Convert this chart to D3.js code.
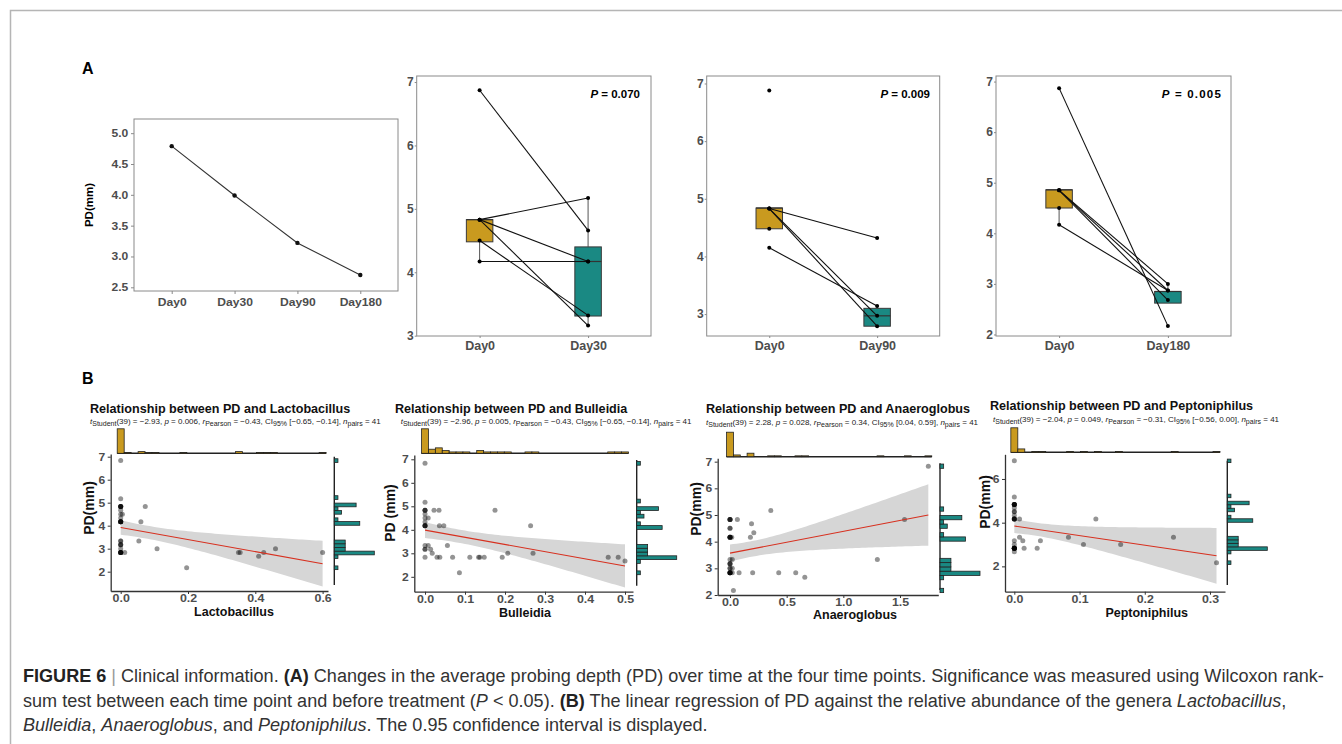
<!DOCTYPE html>
<html>
<head>
<meta charset="utf-8">
<script src="https://cdn.jsdelivr.net/npm/d3@7"></script>
<style>
  body { margin: 0; background: #fff; }
  svg { display: block; font-family: "Liberation Sans", Arial, sans-serif; }
</style>
</head>
<body>
<svg id="fig" width="1342" height="744"></svg>
<script>
// ---------- panel A data
const days = ['Day0', 'Day30', 'Day90', 'Day180'];
const meanPD = [4.79, 3.99, 3.22, 2.70];
const yTicksA = [2.5, 3.0, 3.5, 4.0, 4.5, 5.0];

const followUps = ['Day30', 'Day90', 'Day180'];
const pLabels = ['0.070', '0.009', '0.005'];
// [Day0, follow-up] per patient, null = missing
const pairsDay30 = [[6.87, 4.66], [4.83, 5.17], [4.83, 4.17], [4.83, 3.16], [4.5, 3.32], [4.17, 4.17]];
const pairsDay90 = [[6.88, null], [4.83, 4.32], [4.83, 2.97], [4.83, 2.79], [4.48, null], [4.15, 3.14]];
const pairsDay180 = [[6.87, 2.17], [4.85, 3.0], [4.85, 2.87], [4.85, 2.68], [4.5, null], [4.17, 2.87]];
// [lower whisker, q1, median, q3, upper whisker]
const boxDay0 = [[4.17, 4.48, 4.83, 4.83, 4.83], [4.48, 4.48, 4.84, 4.84, 4.84], [4.17, 4.50, 4.86, 4.86, 4.86]];
const boxFollow = [[3.16, 3.31, 4.17, 4.40, 5.17], [2.79, 2.79, 2.97, 3.10, 3.14], [2.62, 2.62, 2.85, 2.85, 3.0]];
const boxTicks = [[3, 4, 5, 6, 7], [3, 4, 5, 6, 7], [2, 3, 4, 5, 6, 7]];

// ---------- panel B data (41 patients)
const genera = ['Lactobacillus', 'Bulleidia', 'Anaeroglobus', 'Peptoniphilus'];
const yLabels = ['PD(mm)', 'PD (mm)', 'PD(mm)', 'PD(mm)'];
const pd = [6.83, 5.17,
  4.83, 4.83, 4.83, 4.83, 4.83, 4.83, 4.67, 4.5, 4.5, 4.33,
  4.17, 4.17, 4.17, 4.17, 4.17, 4.17, 4.17,
  3.33, 3.33, 3.33, 3.17, 3.17, 3.17, 3.0, 3.0, 3.0,
  2.83, 2.83, 2.83, 2.83, 2.83, 2.83, 2.83, 2.83, 2.83, 2.83, 2.83,
  2.67, 2.17];
const lactobacillus = [0, 0,
  0.073, 0, 0, 0, 0, 0, 0, 0.005, 0, 0,
  0.06, 0, 0, 0, 0, 0, 0,
  0.054, 0, 0, 0, 0, 0, 0.108, 0.46, 0,
  0.35, 0.355, 0.425, 0.6, 0.012, 0, 0, 0, 0, 0, 0,
  0.41, 0.196];
const bulleidia = [0, 0,
  0.0225, 0.035, 0.175, 0, 0, 0, 0, 0.008, 0, 0,
  0.036, 0.047, 0.264, 0, 0, 0, 0,
  0.008, 0.056, 0, 0.014, 0, 0, 0.018, 0.207, 0.27,
  0.03, 0.037, 0.069, 0.112, 0.134, 0.137, 0.148, 0.193, 0.458, 0.483, 0,
  0.5, 0.086];
const anaeroglobus = [1.75, 0.36,
  1.54, 0.065, 0, 0, 0, 0, 0.19, 0, 0, 0.21,
  0.18, 0.015, 0, 0, 0, 0, 0,
  1.3, 0.02, 0, 0, 0, 0, 0.02, 0, 0,
  0.02, 0.08, 0.2, 0.43, 0.58, 0, 0, 0, 0, 0, 0,
  0.66, 0.03];
const peptoniphilus = [0, 0,
  0, 0, 0, 0, 0, 0, 0, 0, 0, 0,
  0.008, 0.125, 0, 0, 0, 0, 0,
  0.008, 0.083, 0.244, 0.013, 0.04, 0, 0.106, 0.163, 0,
  0.015, 0.035, 0, 0, 0, 0, 0, 0, 0, 0, 0,
  0, 0.31];
const abundance = [lactobacillus, bulleidia, anaeroglobus, peptoniphilus];

const tStudent = [-2.93, -2.96, 2.28, -2.04];
const pValue = ['0.006', '0.005', '0.028', '0.049'];
const rPearson = [-0.43, -0.43, 0.34, -0.31];
const ciLow = [-0.65, -0.65, 0.04, -0.56];
const ciHigh = [-0.14, -0.14, 0.59, 0.00];
const xTicksB = [[0, 0.2, 0.4, 0.6], [0, 0.1, 0.2, 0.3, 0.4, 0.5], [0, 0.5, 1.0, 1.5], [0, 0.1, 0.2, 0.3]];
const yTicksB = [[2, 3, 4, 5, 6, 7], [2, 3, 4, 5, 6, 7], [2, 3, 4, 5, 6, 7], [2, 4, 6]];

// ---------- styling
const gold = '#c99a1f';
const teal = '#1a8983';
const tickGrey = '#4d4d4d';

const svg = d3.select('#fig');

svg.append('rect')
  .attr('x', 10.5).attr('y', 10.5)
  .attr('width', 1400).attr('height', 800)
  .attr('fill', 'none').attr('stroke', '#b5b5b5').attr('stroke-width', 1.5);

svg.append('text').attr('x', 82).attr('y', 74).text('A')
  .attr('font-size', 16).attr('font-weight', 'bold');
svg.append('text').attr('x', 82).attr('y', 384).text('B')
  .attr('font-size', 16).attr('font-weight', 'bold');

// tick labels in the figure are slightly widened, sx stretches them horizontally
function styleTicks(g, size, color, sx = 1) {
  g.selectAll('.tick text').attr('font-size', size).attr('font-weight', 'bold')
    .attr('fill', color).attr('font-family', '"Liberation Sans", Arial, sans-serif')
    .attr('transform', sx === 1 ? null : `scale(${sx},1)`);
}

// ---------- A: mean PD over time
const lineBox = {x0: 134, x1: 398, y0: 119, y1: 291};
const xA = d3.scalePoint().domain(days).range([lineBox.x0, lineBox.x1]).padding(0.6);
const yA = d3.scaleLinear().domain([2.44, 5.23]).range([lineBox.y1, lineBox.y0]);

svg.append('rect')
  .attr('x', lineBox.x0).attr('y', lineBox.y0)
  .attr('width', lineBox.x1 - lineBox.x0).attr('height', lineBox.y1 - lineBox.y0)
  .attr('fill', 'none').attr('stroke', '#8a8a8a');

const axA = svg.append('g').attr('transform', `translate(${lineBox.x0},0)`)
  .call(d3.axisLeft(yA).tickValues(yTicksA).tickFormat(d3.format('.1f')).tickSize(3).tickPadding(2));
axA.select('.domain').remove();
axA.selectAll('.tick line').attr('stroke', '#8a8a8a');
styleTicks(axA, 10.5, tickGrey, 1.15);

const bxA = svg.append('g').attr('transform', `translate(0,${lineBox.y1})`)
  .call(d3.axisBottom(xA).tickSize(3).tickPadding(4));
bxA.select('.domain').remove();
bxA.selectAll('.tick line').attr('stroke', '#8a8a8a');
styleTicks(bxA, 11, tickGrey, 1.1);

svg.append('text')
  .attr('transform', `translate(93,${(lineBox.y0 + lineBox.y1) / 2}) rotate(-90)`)
  .attr('text-anchor', 'middle').attr('font-size', 11.5).attr('font-weight', 'bold')
  .text('PD(mm)');

svg.append('path')
  .datum(meanPD)
  .attr('fill', 'none').attr('stroke', '#333').attr('stroke-width', 1.1)
  .attr('d', d3.line().x((d, i) => xA(days[i])).y(d => yA(d)));
svg.selectAll('.meanDot').data(meanPD).enter().append('circle')
  .attr('cx', (d, i) => xA(days[i])).attr('cy', d => yA(d)).attr('r', 2.2).attr('fill', '#111');

// ---------- A: paired box plots
const boxPanels = [
  {x0: 416.7, x1: 651, yDom: [2.995, 7.095], pX: 640},
  {x0: 706.7, x1: 939.7, yDom: [2.62, 7.13], pX: 930},
  {x0: 996, x1: 1231, yDom: [1.97, 7.11], pX: 1222}
];
const allPairs = [pairsDay30, pairsDay90, pairsDay180];

boxPanels.forEach((bp, k) => {
  const y0 = 76, y1 = 336;
  const x = d3.scalePoint().domain(['Day0', followUps[k]]).range([bp.x0, bp.x1]).padding(0.58);
  const y = d3.scaleLinear().domain(bp.yDom).range([y1, y0]);
  const g = svg.append('g');
  const bw = 26.5;

  g.append('rect').attr('x', bp.x0).attr('y', y0)
    .attr('width', bp.x1 - bp.x0).attr('height', y1 - y0)
    .attr('fill', 'none').attr('stroke', '#8a8a8a');

  const ay = g.append('g').attr('transform', `translate(${bp.x0},0)`)
    .call(d3.axisLeft(y).tickValues(boxTicks[k]).tickFormat(d3.format('d')).tickSize(2).tickPadding(1));
  ay.select('.domain').remove();
  ay.selectAll('.tick line').attr('stroke', '#8a8a8a');
  styleTicks(ay, 12, tickGrey);

  const ax = g.append('g').attr('transform', `translate(0,${y1})`)
    .call(d3.axisBottom(x).tickSize(2).tickPadding(3));
  ax.select('.domain').remove();
  ax.selectAll('.tick line').attr('stroke', '#8a8a8a');
  styleTicks(ax, 12.5, tickGrey);

  [[boxDay0[k], 'Day0', gold], [boxFollow[k], followUps[k], teal]].forEach(([s, key, col]) => {
    const cx = x(key);
    g.append('line').attr('x1', cx).attr('x2', cx).attr('y1', y(s[0])).attr('y2', y(s[1]))
      .attr('stroke', '#555');
    g.append('line').attr('x1', cx).attr('x2', cx).attr('y1', y(s[3])).attr('y2', y(s[4]))
      .attr('stroke', '#555');
    g.append('rect').attr('x', cx - bw / 2).attr('y', y(s[3]))
      .attr('width', bw).attr('height', y(s[1]) - y(s[3]))
      .attr('fill', col).attr('stroke', '#3a3a3a').attr('stroke-width', 1);
    g.append('line').attr('x1', cx - bw / 2).attr('x2', cx + bw / 2)
      .attr('y1', y(s[2])).attr('y2', y(s[2])).attr('stroke', '#333').attr('stroke-width', 1.2);
  });

  const pairs = allPairs[k];
  g.selectAll('.pairLine').data(pairs.filter(p => p[1] !== null)).enter().append('line')
    .attr('x1', x('Day0')).attr('x2', x(followUps[k]))
    .attr('y1', d => y(d[0])).attr('y2', d => y(d[1]))
    .attr('stroke', '#111').attr('stroke-width', 1.1);
  pairs.forEach(p => {
    g.append('circle').attr('cx', x('Day0')).attr('cy', y(p[0])).attr('r', 2).attr('fill', '#000');
    if (p[1] !== null) {
      g.append('circle').attr('cx', x(followUps[k])).attr('cy', y(p[1])).attr('r', 2).attr('fill', '#000');
    }
  });

  const pt = g.append('text').attr('x', bp.pX).attr('y', 98).attr('text-anchor', 'end')
    .attr('font-size', 11.5).attr('font-weight', 'bold').attr('letter-spacing', k === 2 ? 1.2 : 0);
  pt.append('tspan').attr('font-style', 'italic').text('P');
  pt.append('tspan').text(` = ${pLabels[k]}`);
});

// ---------- B: scatter plots with marginal histograms
const scatterPanels = [
  {x0: 110.7, x1: 328, y0: 454, y1: 591, xDom: [-0.0297, 0.616], yDom: [1.16, 7.117],
   titleX: 90, titleY: 413, subX: 90, subY: 423.5, topBase: 453.3, rightBase: 334.3,
   rightLine: [456.7, 585], xLabX: 234, xLabY: 615.5, yLabX: 94, yLabY: 508},
  {x0: 414.3, x1: 633, y0: 455, y1: 591.7, xDom: [-0.0268, 0.52], yDom: [1.366, 7.183],
   titleX: 395, titleY: 413, subX: 400.7, subY: 424.3, topBase: 453.3, rightBase: 636.7,
   rightLine: [460, 585.7], xLabX: 525, xLabY: 617, yLabX: 395, yLabY: 513},
  {x0: 717.7, x1: 938.3, y0: 458.3, y1: 595, xDom: [-0.1086, 1.838], yDom: [2.0, 7.126],
   titleX: 706, titleY: 413.3, subX: 706, subY: 425, topBase: 456.7, rightBase: 940,
   rightLine: [463.3, 590], xLabX: 855, xLabY: 618.5, yLabX: 701, yLabY: 509},
  {x0: 1005, x1: 1225, y0: 454.3, y1: 591.7, xDom: [-0.0143, 0.323], yDom: [0.84, 7.13],
   titleX: 990, titleY: 410, subX: 993, subY: 421.7, topBase: 452.3, rightBase: 1227.3,
   rightLine: [460.7, 585], xLabX: 1146.7, xLabY: 617, yLabX: 990, yLabY: 502}
];

const tCrit = 2.0227; // t(0.975, 39)
const fmt = v => v.toFixed(2).replace('-', '\u2212');

function fitLine(xs, ys) {
  const mx = d3.mean(xs), my = d3.mean(ys), n = xs.length;
  const sxx = d3.sum(xs, v => (v - mx) ** 2);
  const sxy = d3.sum(xs, (v, i) => (v - mx) * (ys[i] - my));
  const b = sxy / sxx, a = my - b * mx;
  const s = Math.sqrt(d3.sum(xs, (v, i) => (ys[i] - a - b * v) ** 2) / (n - 2));
  return {a, b, band: v => tCrit * s * Math.sqrt(1 / n + (v - mx) ** 2 / sxx)};
}

// ggplot style bins: 30 bins, first centred on the minimum
function ggBins(values) {
  const [lo, hi] = d3.extent(values);
  const w = (hi - lo) / 29;
  const start = lo - w / 2;
  const th = d3.range(1, 30).map(i => start + i * w);
  return d3.bin().domain([start, start + 30 * w]).thresholds(th)(values);
}

function statLine(g, sp, i) {
  const t = g.append('text').attr('x', sp.subX).attr('y', sp.subY)
    .attr('font-size', 8).attr('fill', '#222');
  const parts = [
    ['t', 'it'], ['Student', 'sub'], [`(39) = ${fmt(tStudent[i])}, `], ['p', 'it'],
    [` = ${pValue[i]}, `], ['r', 'it'], ['Pearson', 'sub'], [` = ${fmt(rPearson[i])}, CI`],
    ['95%', 'sub'], [` [${fmt(ciLow[i])}, ${fmt(ciHigh[i])}], `], ['n', 'it'], ['pairs', 'sub'], [' = 41']
  ];
  let down = false;
  parts.forEach(([s, kind]) => {
    const ts = t.append('tspan').text(s);
    if (kind === 'it') ts.attr('font-style', 'italic');
    if (kind === 'sub') { ts.attr('font-size', 7).attr('dy', 2); down = true; }
    else if (down) { ts.attr('dy', -2); down = false; }
  });
}

scatterPanels.forEach((sp, i) => {
  const xs = abundance[i];
  const g = svg.append('g');
  const x = d3.scaleLinear().domain(sp.xDom).range([sp.x0, sp.x1]);
  const y = d3.scaleLinear().domain(sp.yDom).range([sp.y1, sp.y0]);

  g.append('text').attr('x', sp.titleX).attr('y', sp.titleY)
    .attr('font-size', 12.6).attr('font-weight', 'bold').attr('fill', '#111')
    .text(`Relationship between PD and ${genera[i]}`);
  statLine(g, sp, i);

  // confidence band + fit
  const fit = fitLine(xs, pd);
  const xr = d3.extent(xs);
  const grid = d3.range(0, 61).map(j => xr[0] + (xr[1] - xr[0]) * j / 60);
  g.append('path').datum(grid)
    .attr('fill', '#d6d6d6')
    .attr('d', d3.area().x(v => x(v))
      .y0(v => y(fit.a + fit.b * v - fit.band(v)))
      .y1(v => y(fit.a + fit.b * v + fit.band(v))));

  g.selectAll('.pt').data(pd).enter().append('circle')
    .attr('cx', (d, j) => x(xs[j])).attr('cy', d => y(d))
    .attr('r', 2.5).attr('fill', '#000').attr('fill-opacity', 0.42);

  g.append('line')
    .attr('x1', x(xr[0])).attr('x2', x(xr[1]))
    .attr('y1', y(fit.a + fit.b * xr[0])).attr('y2', y(fit.a + fit.b * xr[1]))
    .attr('stroke', '#d7301f').attr('stroke-width', 1.1);

  // axes
  const ay = g.append('g').attr('transform', `translate(${sp.x0},0)`)
    .call(d3.axisLeft(y).tickValues(yTicksB[i]).tickFormat(d3.format('d')).tickSize(3).tickSizeOuter(0).tickPadding(2));
  const ax = g.append('g').attr('transform', `translate(0,${sp.y1})`)
    .call(d3.axisBottom(x).tickValues(xTicksB[i]).tickFormat(d3.format('.1f')).tickSize(3).tickSizeOuter(0).tickPadding(1));
  [ax, ay].forEach(a => {
    a.select('.domain').attr('stroke', '#333').attr('stroke-width', 1.3);
    a.selectAll('.tick line').attr('stroke', '#333');
  });
  styleTicks(ax, 10.5, tickGrey, 1.18);
  styleTicks(ay, 11, tickGrey, 1.1);

  g.append('text').attr('x', sp.xLabX).attr('y', sp.xLabY).attr('text-anchor', 'middle')
    .attr('font-size', 12.5).attr('font-weight', 'bold').attr('fill', '#111').text(genera[i]);
  g.append('text')
    .attr('transform', `translate(${sp.yLabX},${sp.yLabY}) rotate(-90)`)
    .attr('text-anchor', 'middle').attr('font-size', 14).attr('font-weight', 'bold').attr('fill', '#111')
    .text(yLabels[i]);

  // top marginal histogram (abundance)
  const topBins = ggBins(xs);
  const hTop = d3.scaleLinear().domain([0, d3.max(topBins, b => b.length)]).range([0, 24.5]);
  g.append('line').attr('x1', x(topBins[0].x0)).attr('x2', x(topBins[topBins.length - 1].x1))
    .attr('y1', sp.topBase).attr('y2', sp.topBase).attr('stroke', '#222').attr('stroke-width', 1.4);
  g.selectAll('.tb').data(topBins.filter(b => b.length)).enter().append('rect')
    .attr('x', b => x(b.x0)).attr('width', b => x(b.x1) - x(b.x0))
    .attr('y', b => sp.topBase - hTop(b.length)).attr('height', b => hTop(b.length))
    .attr('fill', gold).attr('stroke', '#222').attr('stroke-width', 0.8);

  // right marginal histogram (PD)
  const rBins = ggBins(pd);
  const wRight = d3.scaleLinear().domain([0, d3.max(rBins, b => b.length)]).range([0, 40]);
  g.append('line').attr('x1', sp.rightBase).attr('x2', sp.rightBase)
    .attr('y1', sp.rightLine[0]).attr('y2', sp.rightLine[1]).attr('stroke', '#222').attr('stroke-width', 1.4);
  g.selectAll('.rb').data(rBins.filter(b => b.length)).enter().append('rect')
    .attr('x', sp.rightBase).attr('width', b => wRight(b.length))
    .attr('y', b => y(b.x1)).attr('height', b => y(b.x0) - y(b.x1))
    .attr('fill', teal).attr('stroke', '#222').attr('stroke-width', 0.8);
});

// ---------- caption
const cap = svg.append('g').attr('fill', '#333');
const capLines = [
  [['FIGURE 6', 'b'], [' ', ''], ['|', 'bar'], [' Clinical information. ', ''], ['(A)', 'b'],
   [' Changes in the average probing depth (PD) over time at the four time points. Significance was measured using Wilcoxon rank-', '']],
  [['sum test between each time point and before treatment (', ''], ['P', 'i'], [' < 0.05). ', ''], ['(B)', 'b'],
   [' The linear regression of PD against the relative abundance of the genera ', ''], ['Lactobacillus', 'i'], [',', '']],
  [['Bulleidia', 'i'], [', ', ''], ['Anaeroglobus', 'i'], [', and ', ''], ['Peptoniphilus', 'i'],
   ['. The 0.95 confidence interval is displayed.', '']]
];
const capY = [682, 706.5, 731];
const capTexts = capLines.map((parts, li) => {
  const t = cap.append('text').attr('x', 23).attr('y', capY[li]).attr('font-size', 16);
  parts.forEach(([s, k]) => {
    const ts = t.append('tspan').text(s);
    if (k === 'b') ts.attr('font-weight', 'bold').attr('fill', '#222');
    if (k === 'i') ts.attr('font-style', 'italic');
    if (k === 'bar') ts.attr('fill', '#999');
  });
  return t;
});
const w1 = capTexts[0].node().getComputedTextLength();
const capSize = 16 * 1302 / w1;
capTexts.forEach(t => t.attr('font-size', capSize));
</script>
</body>
</html>
